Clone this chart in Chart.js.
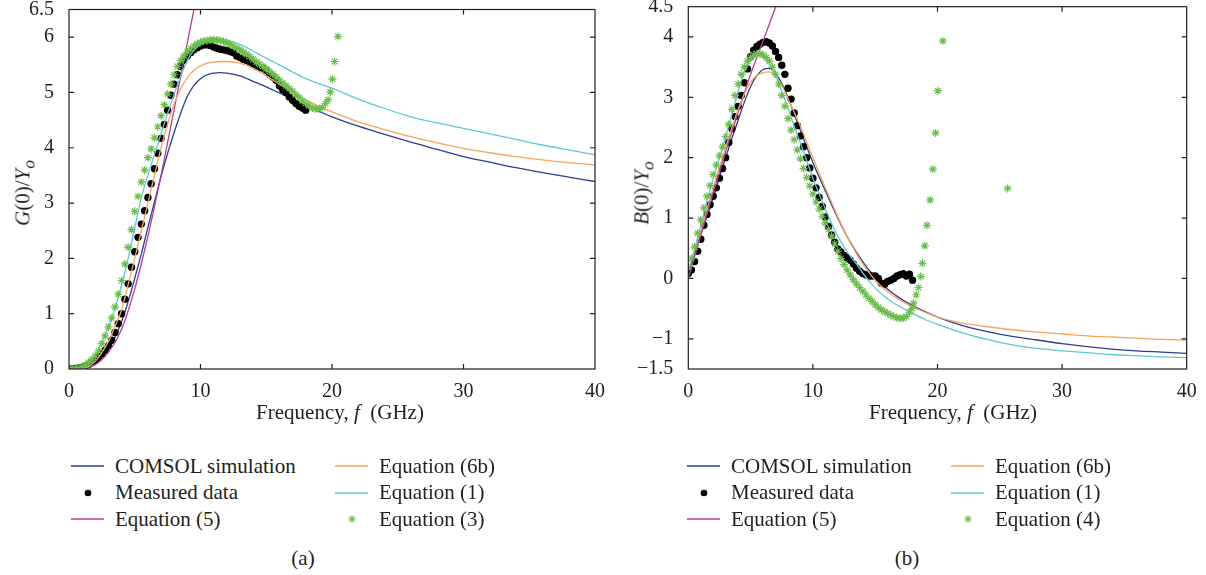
<!DOCTYPE html>
<html>
<head>
<meta charset="utf-8">
<script src="https://cdn.jsdelivr.net/npm/chart.js@4.4.1/dist/chart.umd.min.js"></script>
<style>
  body { margin: 0; background: #fff; font-family: "Liberation Serif", "Times New Roman", "DejaVu Serif", serif; color: #231f20; }
  #page { position: relative; width: 1206px; height: 575px; overflow: hidden; }
  canvas { position: absolute; top: 0; }
  .ytitle, .xtitle, .cap { position: absolute; white-space: nowrap; font-size: 21px; }
  .ytitle { transform: translate(-50%, -50%) rotate(-90deg); }
  .xtitle, .cap { transform: translate(-50%, -50%); }
  .legend { position: absolute; display: grid; grid-template-columns: 264px 264px;
            grid-template-rows: repeat(3, 26.5px); grid-auto-flow: column; font-size: 21px; }
  .item { display: flex; align-items: center; white-space: nowrap; }
  .item svg { flex: none; margin-right: 11px; }
</style>
</head>
<body>
<div id="page">
  <canvas id="chartA" width="625" height="400" style="left:0"></canvas>
  <canvas id="chartB" width="603" height="400" style="left:603px"></canvas>
  <div class="ytitle" style="left:25px; top:193px"><i>G</i>(0)/<i>Y</i><sub><i>o</i></sub></div>
  <div class="ytitle" style="left:644px; top:193px"><i>B</i>(0)/<i>Y</i><sub><i>o</i></sub></div>
  <div class="xtitle" style="left:340px; top:412px">Frequency, <i>f</i>&nbsp; (GHz)</div>
  <div class="xtitle" style="left:953px; top:412px">Frequency, <i>f</i>&nbsp; (GHz)</div>
  <div class="legend" id="legA" style="left:71px; top:453px"></div>
  <div class="legend" id="legB" style="left:687px; top:453px"></div>
  <div class="cap" style="left:303px; top:558px">(a)</div>
  <div class="cap" style="left:907px; top:558px">(b)</div>
</div>
<script>
// frequency grids (GHz)
const xTicks = [0, 10, 20, 30, 40];
const gTicks = [0, 1, 2, 3, 4, 5, 6, 6.5];
const bTicks = [-1.5, -1, 0, 1, 2, 3, 4, 4.5];

const lineFreqA = [0, 1, 2, 2.5, 3, 3.5, 4, 4.5, 5, 5.5, 6, 6.5, 7, 7.5, 8, 8.5, 9, 9.5, 10, 10.5, 11, 11.5, 12,
  13, 14, 15, 16, 17, 18, 19, 20, 22, 24, 26, 28, 30, 32, 34, 36, 38, 40];
const lineFreqB = [0, 0.5, 1, 1.5, 2, 2.5, 3, 3.5, 4, 4.5, 5, 5.5, 6, 6.5, 7, 7.5, 8, 8.5, 9, 9.5, 10, 10.5, 11, 11.5,
  12, 12.5, 13, 13.5, 14, 14.5, 15, 16, 17, 18, 19, 20, 22, 24, 26, 28, 30, 32, 34, 36, 38, 40];
const eq5FreqA = [0, 1, 2, 3, 4, 5, 6, 7, 8, 9, 10];
const eq5FreqB = [0, 1, 2, 3, 4, 5, 6, 7, 8];
const measFreq = [0, 0.25, 0.5, 0.75, 1, 1.25, 1.5, 1.75, 2, 2.25, 2.5, 2.75, 3, 3.25, 3.5, 3.75, 4, 4.25, 4.5, 4.75,
  5, 5.25, 5.5, 5.75, 6, 6.25, 6.5, 6.75, 7, 7.25, 7.5, 7.75, 8, 8.25, 8.5, 8.75, 9, 9.25, 9.5, 9.75,
  10, 10.25, 10.5, 10.75, 11, 11.25, 11.5, 11.75, 12, 12.25, 12.5, 12.75, 13, 13.25, 13.5, 13.75, 14, 14.25, 14.5, 14.75,
  15, 15.25, 15.5, 15.75, 16, 16.25, 16.5, 16.75, 17, 17.25, 17.5, 17.75, 18];
const eq3Freq = [0, 0.25, 0.5, 0.75, 1, 1.25, 1.5, 1.75, 2, 2.25, 2.5, 2.75, 3, 3.25, 3.5, 3.75, 4, 4.25, 4.5, 4.75,
  5, 5.25, 5.5, 5.75, 6, 6.25, 6.5, 6.75, 7, 7.25, 7.5, 7.75, 8, 8.25, 8.5, 8.75, 9, 9.25, 9.5, 9.75,
  10, 10.25, 10.5, 10.75, 11, 11.25, 11.5, 11.75, 12, 12.25, 12.5, 12.75, 13, 13.25, 13.5, 13.75, 14, 14.25, 14.5, 14.75,
  15, 15.25, 15.5, 15.75, 16, 16.25, 16.5, 16.75, 17, 17.25, 17.5, 17.75, 18, 18.25, 18.5, 18.75, 19, 19.25, 19.5,
  19.7, 19.87, 20.03, 20.2, 20.45];
const eq4Freq = [0, 0.25, 0.5, 0.75, 1, 1.25, 1.5, 1.75, 2, 2.25, 2.5, 2.75, 3, 3.25, 3.5, 3.75, 4, 4.25, 4.5, 4.75,
  5, 5.25, 5.5, 5.75, 6, 6.25, 6.5, 6.75, 7, 7.25, 7.5, 7.75, 8, 8.25, 8.5, 8.75, 9, 9.25, 9.5, 9.75,
  10, 10.25, 10.5, 10.75, 11, 11.25, 11.5, 11.75, 12, 12.25, 12.5, 12.75, 13, 13.25, 13.5, 13.75, 14, 14.25, 14.5, 14.75,
  15, 15.25, 15.5, 15.75, 16, 16.25, 16.5, 16.75, 17, 17.25, 17.5, 17.75,
  17.94, 18.07, 18.29, 18.47, 18.66, 18.79, 18.98, 19.15, 19.41, 19.63, 19.84, 20.03, 20.43, 25.62];

// (a) G(0)/Yo
const gComsol = [0, 0.01, 0.1, 0.22, 0.36, 0.58, 0.86, 1.22, 1.64, 2.08, 2.56, 3.02, 3.48, 3.9, 4.28, 4.63, 4.93, 5.13,
  5.25, 5.32, 5.35, 5.36, 5.35, 5.3, 5.2, 5.1, 4.99, 4.88, 4.77, 4.66, 4.56, 4.39, 4.24, 4.1, 3.97, 3.84, 3.74, 3.64,
  3.55, 3.47, 3.39];
const gEq6b = [0, 0.01, 0.14, 0.3, 0.5, 0.77, 1.07, 1.53, 2.0, 2.5, 3.0, 3.5, 4.0, 4.43, 4.8, 5.07, 5.27, 5.4, 5.48,
  5.53, 5.55, 5.56, 5.56, 5.53, 5.44, 5.3, 5.15, 5.01, 4.87, 4.75, 4.65, 4.47, 4.33, 4.2, 4.09, 3.99, 3.91, 3.84,
  3.78, 3.73, 3.69];
const gEq1 = [0, 0.03, 0.25, 0.48, 0.76, 1.1, 1.52, 2.0, 2.55, 3.1, 3.5, 3.88, 4.26, 4.62, 4.97, 5.3, 5.58, 5.76,
  5.87, 5.93, 5.96, 5.96, 5.94, 5.87, 5.75, 5.62, 5.5, 5.37, 5.25, 5.16, 5.08, 4.88, 4.71, 4.56, 4.45, 4.35, 4.25,
  4.15, 4.05, 3.96, 3.87];
const gEq5 = [0, 0.01, 0.08, 0.3, 0.72, 1.45, 2.4, 3.5, 4.7, 5.9, 7.1];
const gMeas = [0, 0, 0.01, 0.02, 0.03, 0.05, 0.08, 0.12, 0.16, 0.21, 0.27, 0.34, 0.42, 0.52, 0.66, 0.82, 1.0, 1.26,
  1.54, 1.84, 2.12, 2.38, 2.62, 2.86, 3.1, 3.35, 3.62, 3.9, 4.17, 4.42, 4.68, 4.95, 5.15, 5.32, 5.47, 5.58, 5.66,
  5.72, 5.77, 5.81, 5.84, 5.86, 5.86, 5.85, 5.82, 5.8, 5.78, 5.77, 5.76, 5.74, 5.72, 5.66, 5.63, 5.6, 5.58, 5.55,
  5.51, 5.47, 5.45, 5.44, 5.4, 5.33, 5.28, 5.22, 5.12, 5.05, 5.0, 4.92, 4.86, 4.8, 4.75, 4.72, 4.68];
const gEq3 = [0, 0, 0.01, 0.02, 0.04, 0.07, 0.12, 0.17, 0.24, 0.33, 0.46, 0.6, 0.76, 0.92, 1.12, 1.35, 1.6, 1.9,
  2.2, 2.52, 2.85, 3.12, 3.38, 3.6, 3.82, 3.98, 4.18, 4.38, 4.58, 4.78, 4.97, 5.15, 5.32, 5.47, 5.58, 5.66, 5.73,
  5.79, 5.84, 5.88, 5.91, 5.93, 5.94, 5.95, 5.95, 5.95, 5.94, 5.92, 5.9, 5.87, 5.84, 5.8, 5.77, 5.73, 5.69, 5.65,
  5.6, 5.55, 5.51, 5.47, 5.43, 5.38, 5.33, 5.28, 5.23, 5.17, 5.12, 5.07, 5.02, 4.96, 4.91, 4.85, 4.8, 4.76, 4.72,
  4.7, 4.7, 4.73, 4.8, 4.87, 5.01, 5.24, 5.56, 6.01];

// (b) B(0)/Yo
const bComsol = [0.1, 0.4, 0.72, 1.02, 1.34, 1.68, 2.0, 2.32, 2.62, 2.92, 3.18, 3.36, 3.46, 3.48, 3.4, 3.23, 3.0,
  2.72, 2.45, 2.18, 1.92, 1.68, 1.45, 1.22, 1.0, 0.79, 0.6, 0.43, 0.28, 0.14, 0.02, -0.18, -0.33, -0.45, -0.55,
  -0.64, -0.78, -0.88, -0.96, -1.02, -1.08, -1.13, -1.17, -1.2, -1.22, -1.24];
const bEq6b = [0.12, 0.45, 0.8, 1.15, 1.5, 1.84, 2.17, 2.5, 2.8, 3.06, 3.25, 3.36, 3.41, 3.42, 3.35, 3.2, 2.98,
  2.75, 2.52, 2.26, 2.0, 1.75, 1.5, 1.26, 1.02, 0.8, 0.59, 0.41, 0.24, 0.1, -0.03, -0.22, -0.36, -0.47, -0.56,
  -0.64, -0.74, -0.8, -0.85, -0.89, -0.92, -0.95, -0.97, -0.99, -1.01, -1.02];
const bEq1 = [0.12, 0.48, 0.88, 1.28, 1.65, 2.0, 2.35, 2.72, 3.1, 3.42, 3.62, 3.72, 3.7, 3.56, 3.36, 3.1, 2.82,
  2.52, 2.24, 1.95, 1.66, 1.4, 1.15, 0.91, 0.7, 0.52, 0.37, 0.24, 0.09, -0.04, -0.16, -0.34, -0.47, -0.58, -0.68,
  -0.76, -0.9, -1.01, -1.1, -1.16, -1.2, -1.23, -1.26, -1.28, -1.3, -1.31];
const bEq5 = [0, 0.72, 1.42, 2.1, 2.75, 3.38, 3.93, 4.49, 5.05];
const bMeas = [0.08, 0.14, 0.28, 0.45, 0.65, 0.88, 1.06, 1.22, 1.36, 1.5, 1.66, 1.82, 2.0, 2.25, 2.48, 2.68, 2.85,
  3.03, 3.24, 3.47, 3.67, 3.78, 3.84, 3.88, 3.91, 3.92, 3.9, 3.85, 3.76, 3.66, 3.53, 3.38, 3.15, 2.97, 2.74, 2.53,
  2.36, 2.18, 2.0, 1.83, 1.66, 1.5, 1.34, 1.19, 1.02, 0.86, 0.72, 0.6, 0.49, 0.44, 0.38, 0.34, 0.3, 0.24, 0.17,
  0.12, 0.08, 0.06, 0.04, 0.04, 0.04, 0.0, -0.08, -0.1, -0.05, -0.03, 0.0, 0.04, 0.06, 0.08, 0.04, 0.07, -0.03];
const bEq4 = [0.19, 0.33, 0.52, 0.75, 0.97, 1.17, 1.36, 1.54, 1.72, 1.88, 2.03, 2.18, 2.35, 2.55, 2.8, 3.03, 3.22,
  3.38, 3.5, 3.6, 3.66, 3.7, 3.72, 3.72, 3.7, 3.66, 3.6, 3.5, 3.38, 3.22, 3.03, 2.85, 2.65, 2.46, 2.3, 2.13, 1.98,
  1.82, 1.67, 1.53, 1.4, 1.27, 1.15, 1.03, 0.92, 0.81, 0.7, 0.57, 0.45, 0.33, 0.23, 0.14, 0.06, -0.02, -0.09, -0.15,
  -0.21, -0.27, -0.33, -0.38, -0.43, -0.48, -0.52, -0.55, -0.58, -0.61, -0.63, -0.65, -0.66, -0.66, -0.63, -0.56,
  -0.5, -0.41, -0.27, -0.15, 0.03, 0.25, 0.54, 0.88, 1.3, 1.81, 2.41, 3.11, 3.93, 1.49];

const ink = '#231f20';
const colComsol = '#2c3d94';
const col6b = '#f8a55e';
const colEq1 = '#5fc8d8';
const colEq5 = '#b43c9c';
const colStar = '#6abf4b';
const tickFont = { family: '"Liberation Serif", "Times New Roman", "DejaVu Serif", serif', size: 20 };

function pts(xs, ys) {
  return xs.map((x, i) => ({ x: x, y: ys[i] }));
}

function lineSet(label, xs, ys, color) {
  return { label: label, data: pts(xs, ys), showLine: true, borderColor: color, backgroundColor: color,
    borderWidth: 1.3, pointRadius: 0, cubicInterpolationMode: 'monotone', kind: 'line' };
}

function dotSet(label, xs, ys) {
  return { label: label, data: pts(xs, ys), showLine: false, pointStyle: 'circle', pointRadius: 3.7,
    backgroundColor: '#000', borderColor: '#000', borderWidth: 0, kind: 'dot' };
}

function starSet(label, xs, ys) {
  return { label: label, data: pts(xs, ys), showLine: false, pointStyle: 'star', pointRadius: 4,
    borderColor: colStar, backgroundColor: colStar, borderWidth: 1.2, kind: 'star' };
}

const fmt = v => String(v).replace('-', '\u2212');

// box around the plot with inward ticks on every side
const frame = {
  id: 'frame',
  afterDraw(chart) {
    const { ctx, chartArea: a, scales: { x, y } } = chart;
    ctx.save();
    ctx.strokeStyle = ink;
    ctx.lineWidth = 1.2;
    ctx.strokeRect(a.left, a.top, a.right - a.left, a.bottom - a.top);
    ctx.beginPath();
    x.ticks.forEach(t => {
      const p = x.getPixelForValue(t.value);
      if (p < a.left + 2 || p > a.right - 2) return;
      ctx.moveTo(p, a.bottom); ctx.lineTo(p, a.bottom - 5);
      ctx.moveTo(p, a.top); ctx.lineTo(p, a.top + 5);
    });
    y.ticks.forEach(t => {
      const p = y.getPixelForValue(t.value);
      if (p < a.top + 2 || p > a.bottom - 2) return;
      ctx.moveTo(a.left, p); ctx.lineTo(a.left + 5, p);
      ctx.moveTo(a.right, p); ctx.lineTo(a.right - 5, p);
    });
    ctx.stroke();
    ctx.restore();
  }
};

function makeChart(id, sets, yMin, yMax, yTicks, yWidth, pad) {
  return new Chart(document.getElementById(id), {
    type: 'scatter',
    data: { datasets: sets },
    options: {
      responsive: false,
      animation: false,
      layout: { padding: pad },
      plugins: { legend: { display: false }, tooltip: { enabled: false } },
      scales: {
        x: {
          type: 'linear', min: 0, max: 40,
          grid: { display: false }, border: { display: false },
          afterBuildTicks: s => { s.ticks = xTicks.map(v => ({ value: v })); },
          afterFit: s => { s.height = 31; s.paddingLeft = 0; s.paddingRight = 0; },
          ticks: { font: tickFont, color: ink, padding: 3, autoSkip: false, maxRotation: 0, callback: fmt }
        },
        y: {
          type: 'linear', min: yMin, max: yMax,
          grid: { display: false }, border: { display: false },
          afterBuildTicks: s => { s.ticks = yTicks.map(v => ({ value: v })); },
          afterFit: s => { s.width = yWidth; s.paddingTop = 0; s.paddingBottom = 0; },
          ticks: { font: tickFont, color: ink, padding: 7, autoSkip: false, callback: fmt }
        }
      }
    },
    plugins: [frame]
  });
}

// first dataset is painted last (on top)
const setsA = [
  starSet('Equation (3)', eq3Freq, gEq3),
  lineSet('Equation (1)', lineFreqA, gEq1, colEq1),
  lineSet('Equation (6b)', lineFreqA, gEq6b, col6b),
  lineSet('Equation (5)', eq5FreqA, gEq5, colEq5),
  dotSet('Measured data', measFreq, gMeas),
  lineSet('COMSOL simulation', lineFreqA, gComsol, colComsol)
];
const setsB = [
  starSet('Equation (4)', eq4Freq, bEq4),
  lineSet('Equation (1)', lineFreqB, bEq1, colEq1),
  lineSet('Equation (6b)', lineFreqB, bEq6b, col6b),
  lineSet('Equation (5)', eq5FreqB, bEq5, colEq5),
  dotSet('Measured data', measFreq, bMeas),
  lineSet('COMSOL simulation', lineFreqB, bComsol, colComsol)
];

makeChart('chartA', setsA, 0, 6.5, gTicks, 69, { left: 0, right: 30, top: 9.5, bottom: 0 });
makeChart('chartB', setsB, -1.5, 4.5, bTicks, 85.3, { left: 0, right: 19.3, top: 6.7, bottom: 0 });

// legends: column-major, same order as the paper
function swatch(ds) {
  let inner;
  if (ds.kind === 'dot') {
    inner = '<circle cx="17" cy="8" r="3.3" fill="#000"/>';
  } else if (ds.kind === 'star') {
    const c = ds.borderColor;
    inner = '<g stroke="' + c + '" stroke-width="1.1"><line x1="17" y1="4.5" x2="17" y2="11.5"/>' +
      '<line x1="13.5" y1="8" x2="20.5" y2="8"/><line x1="14.5" y1="5.5" x2="19.5" y2="10.5"/>' +
      '<line x1="19.5" y1="5.5" x2="14.5" y2="10.5"/></g>';
  } else {
    inner = '<line x1="0" y1="8" x2="33" y2="8" stroke="' + ds.borderColor + '" stroke-width="1.5"/>';
  }
  return '<svg width="33" height="16">' + inner + '</svg>';
}

function buildLegend(id, sets) {
  const order = ['COMSOL simulation', 'Measured data', 'Equation (5)', 'Equation (6b)', 'Equation (1)'];
  const items = order.map(l => sets.find(d => d.label === l));
  items.push(sets.find(d => d.kind === 'star'));
  document.getElementById(id).innerHTML = items.map(d =>
    '<div class="item">' + swatch(d) + '<span>' + d.label + '</span></div>').join('');
}

buildLegend('legA', setsA);
buildLegend('legB', setsB);
</script>
</body>
</html>
